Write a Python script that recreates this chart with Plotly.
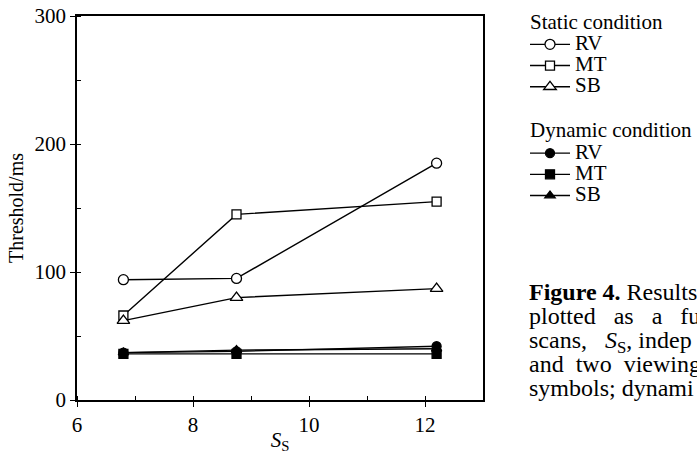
import plotly.graph_objects as go

ss = [6.8, 8.75, 12.2]
static_rv = [94, 95, 185]
static_mt = [66, 145, 155]
static_sb = [62, 80, 87]
dyn_rv = [37, 38, 42]
dyn_mt = [36, 36, 36]
dyn_sb = [37, 39, 40]

FONT = "Liberation Serif"
W, H = 697, 454
L, R, T, B = 77, 214, 16, 54


def big(txt, px):
    return '<span style="font-size:%dpx">%s</span>' % (px, txt)


fig = go.Figure()
series = [
    ("RV", static_rv, "circle", True, "static", "Static condition", 10),
    ("MT", static_mt, "square", True, "static", "Static condition", 9),
    ("SB", static_sb, "triangle-up", True, "static", "Static condition", 11),
    ("RV", dyn_rv, "circle", False, "dynamic", "Dynamic condition", 9),
    ("MT", dyn_mt, "square", False, "dynamic", "Dynamic condition", 9),
    ("SB", dyn_sb, "triangle-up", False, "dynamic", "Dynamic condition", 9),
]
for name, ys, sym, hollow, grp, gtitle, sz in series:
    fig.add_trace(go.Scatter(
        x=ss, y=ys, name=big(name, 21), mode="lines+markers",
        line=dict(color="black", width=1.4),
        marker=dict(symbol=sym, size=sz,
                    color="white" if hollow else "black",
                    line=dict(color="black", width=1.3)),
        legendgroup=grp,
        legendgrouptitle=dict(text=big(gtitle, 21),
                              font=dict(family=FONT, size=14, color="black")),
    ))

axis_common = dict(
    showline=True, linecolor="black", linewidth=1.5, mirror=True,
    showgrid=False, zeroline=False, ticks="outside", ticklen=5,
    tickcolor="black", tickwidth=1.2,
    tickfont=dict(family=FONT, size=21, color="black"),
)
fig.update_xaxes(range=[6, 13], tickvals=[6, 8, 10, 12],
                 minor=dict(dtick=1, tick0=6, ticks="inside", ticklen=4, tickcolor="black"),
                 title=dict(text="<i>S</i><sub>S</sub>", font=dict(family=FONT, size=21, color="black"), standoff=2),
                 **axis_common)
fig.update_yaxes(range=[0, 300], tickvals=[0, 100, 200, 300],
                 minor=dict(dtick=50, tick0=0, ticks="inside", ticklen=4, tickcolor="black"),
                 title=dict(text="Threshold/ms", font=dict(family=FONT, size=20, color="black"), standoff=6),
                 **axis_common)

NB = "\u00a0"
caption_lines = [
    "<b>Figure 4.</b> Results",
    "plotted" + NB * 3 + "as" + NB * 3 + "a" + NB * 3 + "fu",
    "scans," + NB * 3 + "<i>S</i><sub>S</sub>," + NB + "indep",
    "and" + NB * 2 + "two" + NB * 2 + "viewing",
    "symbols; dynami",
]
caption = "<br>".join(big(t, 24) for t in caption_lines)
fig.add_annotation(text=caption, xref="paper", yref="paper",
                   x=(527 - L) / (W - L - R), y=1 - (340 - T) / (H - T - B),
                   xanchor="left", yanchor="middle", align="left", showarrow=False,
                   font=dict(family=FONT, size=18.5, color="black"))

fig.update_layout(
    width=W, height=H, margin=dict(l=L, r=R, t=T, b=B, autoexpand=False),
    paper_bgcolor="white", plot_bgcolor="white",
    showlegend=True,
    legend=dict(x=(525 - L) / (W - L - R), y=1.022, xanchor="left", yanchor="top",
                font=dict(family=FONT, size=14, color="black"),
                tracegroupgap=24, itemwidth=40, bgcolor="rgba(0,0,0,0)",
                groupclick="toggleitem"),
)
fig.write_html("out.html")
